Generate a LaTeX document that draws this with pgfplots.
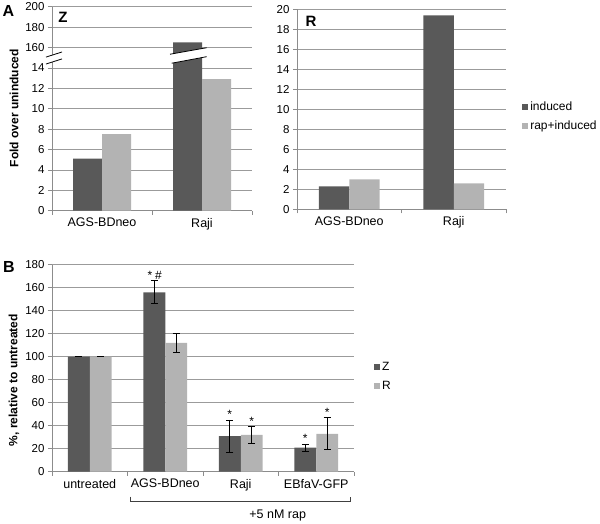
\documentclass[border=0pt]{standalone}
\usepackage{pgfplots}
\pgfplotsset{compat=1.18}
\usepackage{fontspec}
\setmainfont{Liberation Sans}
\definecolor{zdark}{RGB}{89,89,89}
\definecolor{rlight}{RGB}{179,179,179}
\definecolor{gridc}{RGB}{155,155,155}
\definecolor{axisc}{RGB}{140,140,140}
\begin{document}
\begin{tikzpicture}
\useasboundingbox (0,0) rectangle (600bp,-524bp);
\pgfplotsset{
  mystyle/.style={
    scale only axis, clip=false,
    axis x line=bottom, axis y line=left,
    axis line style={-, draw=axisc, line width=0.8bp},
    ymajorgrids, grid style={draw=gridc, line width=0.8bp},
    tick align=outside,
    major tick length=4bp,
    major x tick style={draw=none},
    minor tick length=4bp,
    minor x tick style={draw=axisc, line width=0.8bp},
    major y tick style={draw=axisc, line width=0.8bp},
    ybar=0pt, bar width=0.29,
    yticklabel style={font=\fontsize{11.5bp}{13bp}\selectfont, text=black},
    xticklabel style={font=\fontsize{12.5bp}{14bp}\selectfont, text=black},
    /pgf/number format/assume math mode=true,
    ylabel style={font=\bfseries\fontsize{12bp}{14bp}\selectfont},
    legend image code/.code={\fill[##1] (0bp,-3bp) rectangle (6bp,3bp);},
    legend style={draw=none, fill=none, inner sep=0pt, font=\fontsize{12bp}{14bp}\selectfont, row sep=5bp, anchor=west},
    legend cell align=left,
  }
}
% Panel A - Z
\begin{axis}[mystyle, at={(52bp,-210.7bp)}, anchor=south west,
  width=200bp, height=204bp,
  xmin=-0.5, xmax=1.5, ymin=0, ymax=10,
  xtick={0,1}, xticklabels={AGS-BDneo,Raji},
  minor xtick={-0.5,0.5,1.5},
  ytick={0,...,10}, yticklabels={0,2,4,6,8,10,12,14,160,180,200},
  y filter/.expression={y<100 ? y/2 : 8+(y-160)/20},
  ylabel={Fold over uninduced},
  ylabel style={at={(axis description cs:-0.19,0.503)}, anchor=center},
]
\addplot[fill=zdark, draw=none] coordinates {(0,5.1) (1,165)};
\addplot[fill=rlight, draw=none] coordinates {(0,7.5) (1,12.9)};
% axis break
\fill[white] (axis cs:-0.56,7.53) -- (axis cs:-0.40,7.78) -- (axis cs:-0.40,7.44) -- (axis cs:-0.56,7.19) -- cycle;
\draw[black, line width=0.8bp] (axis cs:-0.56,7.53) -- (axis cs:-0.40,7.78);
\draw[black, line width=0.8bp] (axis cs:-0.56,7.19) -- (axis cs:-0.40,7.44);
\fill[white] (axis cs:0.68,7.67) -- (axis cs:1.047,7.99) -- (axis cs:1.047,7.55) -- (axis cs:0.697,7.23) -- cycle;
\draw[black, line width=0.8bp] (axis cs:0.68,7.67) -- (axis cs:1.047,7.99);
\draw[black, line width=0.8bp] (axis cs:0.697,7.23) -- (axis cs:1.047,7.55);
\end{axis}
% Panel A - R
\begin{axis}[mystyle, at={(297bp,-209.3bp)}, anchor=south west,
  width=209bp, height=200bp,
  xmin=-0.5, xmax=1.5, ymin=0, ymax=20,
  xtick={0,1}, xticklabels={AGS-BDneo,Raji},
  minor xtick={-0.5,0.5,1.5},
  ytick={0,2,...,20},
  legend style={at={(1.077,0.464)}},
]
\addplot[fill=zdark, draw=none] coordinates {(0,2.3) (1,19.4)};
\addplot[fill=rlight, draw=none] coordinates {(0,3.0) (1,2.6)};
\legend{induced, rap+induced}
\end{axis}
% Panel B
\begin{axis}[mystyle, at={(52bp,-471.7bp)}, anchor=south west,
  width=302bp, height=207bp,
  xmin=-0.5, xmax=3.5, ymin=0, ymax=180,
  xtick={0,1,2,3}, xticklabels={untreated,AGS-BDneo,Raji,EBfaV-GFP},
  minor xtick={-0.5,0.5,1.5,2.5,3.5},
  ytick={0,20,...,180},
  ylabel={\%, relative to untreated},
  ylabel style={at={(axis description cs:-0.126,0.443)}, anchor=center},
  legend style={at={(1.066,0.46)}},
  error bars/error bar style={black, line width=0.8bp},
  error bars/error mark options={rotate=90, black, mark size=3.5bp, line width=0.8bp},
]
\addplot[fill=zdark, draw=none, error bars/.cd, y dir=both, y explicit]
  table[x=x, y=y, y error=e] {
x y e
0 100 0
1 156 10
2 31 14
3 21 3
};
\addplot[fill=rlight, draw=none, error bars/.cd, y dir=both, y explicit]
  table[x=x, y=y, y error=e] {
x y e
0 100 0
1 112 8
2 32 7
3 33 14
};
\legend{Z, R}
\begin{scope}[every node/.style={font=\fontsize{12bp}{14bp}\selectfont, anchor=base, inner sep=0pt, yshift=1.5bp}]
\node at (axis cs:0.86,166) {*\hspace{3bp}\#};
\node at (axis cs:1.855,45) {*};
\node at (axis cs:2.145,39) {*};
\node at (axis cs:2.855,24) {*};
\node at (axis cs:3.145,47) {*};
\end{scope}
\draw[draw=black!75, line width=0.8bp] (axis cs:0.542,-21.7) -- (axis cs:0.542,-26.1) -- (axis cs:3.447,-26.1) -- (axis cs:3.447,-21.7);
\node[font=\fontsize{12.5bp}{14bp}\selectfont] at (axis cs:2.49,-37.7) {+5 nM rap};
\end{axis}
% panel labels
\node[font=\bfseries\fontsize{16bp}{18bp}\selectfont] at (8.5bp,-11bp) {A};
\node[font=\bfseries\fontsize{16bp}{18bp}\selectfont] at (9bp,-267bp) {B};
\node[font=\bfseries\fontsize{15bp}{17bp}\selectfont] at (63bp,-17.5bp) {Z};
\node[font=\bfseries\fontsize{15bp}{17bp}\selectfont] at (311bp,-21bp) {R};
\end{tikzpicture}
\end{document}
